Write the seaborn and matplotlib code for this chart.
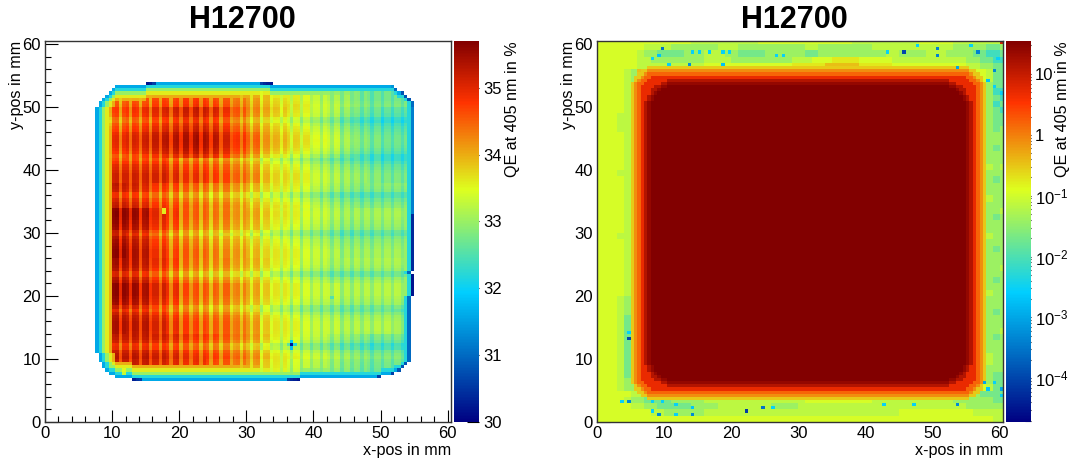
import numpy as np
import matplotlib
matplotlib.use('Agg')
import matplotlib.pyplot as plt
import seaborn as sns
from matplotlib.colors import LinearSegmentedColormap, LogNorm
from matplotlib.ticker import NullFormatter

# Values are read by eye from the picture. The 0.5 mm maps are too dense to type
# cell by cell, so they are assembled from typed tables, profiles and single cells.

titles = ['H12700', 'H12700']
x_label = 'x-pos in mm'
y_label = 'y-pos in mm'
cbar_label = 'QE at 405 nm in %'
mm_ticks = [0, 10, 20, 30, 40, 50, 60]
mm_minor = [2, 4, 6, 8, 12, 14, 16, 18, 22, 24, 26, 28, 32, 34, 36, 38, 42, 44, 46, 48, 52, 54, 56, 58]
qe_ticks = [30, 31, 32, 33, 34, 35]
log_ticks = [1e-4, 1e-3, 1e-2, 1e-1, 1, 10]
log_tick_labels = ['$\\mathregular{10^{-4}}$', '$\\mathregular{10^{-3}}$', '$\\mathregular{10^{-2}}$',
                   '$\\mathregular{10^{-1}}$', '1', '10']

# left map: QE in blocks 2 mm wide and 4 mm high, x from 8, rows from y=54 down to y=6
qe_blocks = [
    [34.3, 34.3, 34.4, 34.4, 34.5, 34.5, 34.6, 34.6, 34.5, 34.4, 34.2, 34.0, 33.8, 33.6, 33.5, 33.4, 33.2, 33.1, 33.0, 32.8, 32.7, 32.7, 32.7, 32.7],
    [34.4, 34.5, 34.6, 34.7, 34.8, 34.9, 35.0, 35.0, 34.9, 34.7, 34.4, 34.1, 33.9, 33.7, 33.5, 33.4, 33.2, 33.1, 32.9, 32.7, 32.6, 32.5, 32.5, 32.6],
    [34.6, 34.6, 34.7, 34.8, 34.9, 35.0, 35.1, 35.1, 35.0, 34.8, 34.5, 34.2, 33.9, 33.7, 33.5, 33.4, 33.2, 33.1, 32.9, 32.7, 32.6, 32.5, 32.5, 32.6],
    [34.8, 34.8, 34.8, 34.8, 34.8, 34.7, 34.6, 34.6, 34.5, 34.4, 34.2, 34.0, 33.7, 33.5, 33.4, 33.3, 33.1, 33.0, 32.9, 32.8, 32.7, 32.6, 32.6, 32.7],
    [35.0, 35.0, 34.9, 34.8, 34.6, 34.5, 34.4, 34.3, 34.2, 34.2, 34.0, 33.8, 33.6, 33.5, 33.4, 33.3, 33.1, 33.0, 32.9, 32.8, 32.8, 32.8, 32.8, 32.8],
    [35.3, 35.3, 35.2, 35.1, 34.7, 34.5, 34.3, 34.2, 34.1, 34.1, 33.9, 33.8, 33.6, 33.4, 33.3, 33.2, 33.1, 33.0, 32.9, 32.9, 32.9, 32.9, 32.9, 32.9],
    [35.2, 35.3, 35.1, 35.0, 34.6, 34.4, 34.3, 34.2, 34.1, 34.0, 33.9, 33.7, 33.5, 33.4, 33.3, 33.2, 33.1, 33.0, 32.9, 32.9, 32.9, 32.9, 32.9, 32.9],
    [35.2, 35.2, 35.1, 35.0, 34.7, 34.5, 34.3, 34.2, 34.1, 34.1, 33.9, 33.8, 33.6, 33.4, 33.3, 33.2, 33.1, 33.0, 33.0, 33.0, 33.0, 33.0, 33.0, 33.0],
    [35.2, 35.3, 35.2, 35.1, 34.8, 34.6, 34.4, 34.3, 34.2, 34.2, 34.0, 33.8, 33.6, 33.4, 33.3, 33.2, 33.1, 33.1, 33.0, 33.0, 33.0, 33.0, 33.0, 33.0],
    [35.1, 35.1, 35.0, 35.0, 34.8, 34.6, 34.5, 34.4, 34.3, 34.3, 34.1, 33.9, 33.6, 33.4, 33.3, 33.2, 33.1, 33.1, 33.0, 33.0, 33.0, 33.0, 32.9, 32.9],
    [35.0, 35.0, 35.0, 35.0, 34.9, 34.8, 34.7, 34.6, 34.5, 34.4, 34.2, 34.0, 33.7, 33.4, 33.3, 33.2, 33.1, 33.0, 32.9, 32.8, 32.7, 32.7, 32.7, 32.7],
    [34.8, 34.9, 34.9, 34.9, 34.8, 34.7, 34.6, 34.6, 34.4, 34.3, 34.1, 33.9, 33.6, 33.4, 33.2, 33.1, 33.0, 32.9, 32.8, 32.7, 32.6, 32.6, 32.6, 32.6],
]

# vertical stripes, x = 8 .. 55.5 in 0.5 mm cells
col_ripple = [
    -.30, .10, .15, -.45, .15, .20, -.50, .15, .15, -.45, .20, .15,
    -.50, .15, .20, -.45, .15, .15, -.45, .20, .15, -.50, .15, .20,
    -.45, .15, .15, -.40, .15, .20, -.45, .15, .15, -.45, .15, .10,
    -.40, .15, .15, -.40, .10, .15, -.35, .15, .10, -.35, .10, .15,
    -.30, .10, .12, -.30, .12, .10, -.28, .10, .10, -.30, .12, .10,
    -.28, .10, .10, -.28, .10, .10, -.25, .10, .08, -.25, .10, .08,
    -.25, .08, .10, -.25, .10, .08, -.22, .08, .08, -.22, .08, .08,
    -.20, .08, .08, -.20, .08, .06, -.18, .06, .06, -.15, .05, .05,
]

# horizontal bands, y = 6.5 .. 53.5 in 0.5 mm cells
row_ripple = [
    0, 0, 0, .05, .10, .12, .15, .15, .10, 0, -.25, -.30, -.05, .05, .10, .12, .15, .15, .15, .10,
    .05, -.10, -.30, -.25, 0, .05, .10, .15, .15, .15, .15, .05, -.05, -.30, -.30, -.05, .05, .10, .12, .15,
    .15, .15, .10, .05, 0, -.10, -.30, -.25, 0, .05, .10, .15, .18, .18, .15, .08, .02, -.10, -.28, -.28,
    0, .05, .10, .15, .18, .18, .12, .05, 0, -.15, -.30, -.20, 0, .08, .15, .18, .20, .18, .12, .05,
    0, -.10, -.28, -.22, 0, .05, .08, .10, .05, 0, 0, 0, 0, 0, 0,
]

# outline of the left map from the bottom row up: rows, x start, x end, QE of the last cell
row_runs = [
    (1, 13.0, 38.0, 30.3), (1, 10.5, 50.0, 30.6), (1, 9.5, 52.0, 30.6), (1, 9.0, 53.0, 30.8), (1, 8.5, 53.5, 30.8),
    (1, 8.5, 54.0, 30.8), (3, 8.0, 54.5, 31.0), (18, 7.5, 54.5, 31.0), (7, 7.5, 55.0, 30.2), (1, 7.5, 54.5, 31.0),
    (18, 7.5, 55.0, 30.4), (34, 7.5, 55.0, 31.2),
    (2, 8.0, 55.0, 31.0), (1, 8.5, 54.5, 30.8), (1, 9.0, 54.0, 30.8), (1, 9.5, 53.5, 30.8),
    (1, 10.0, 52.5, 31.0), (1, 10.5, 52.0, 31.4), (1, 15.0, 33.5, 31.0),
]
edge_qe = [31.6, 32.2, 33.0, 33.6, 34.0]
qe_cells_x = [36.5, 36.5, 36.0, 37.0, 36.5, 17.5, 17.5, 42.5, 11.5, 11.5, 15.0, 15.5, 16.0, 32.0, 32.5, 33.0, 33.5, 13.0, 13.5, 14.0, 36.0, 36.5, 37.0, 37.5]
qe_cells_y = [12.0, 11.5, 12.0, 12.0, 12.5, 33.0, 33.5, 19.5, 8.0, 7.5, 53.5, 53.5, 53.5, 53.5, 53.5, 53.5, 53.5, 6.5, 6.5, 6.5, 6.5, 6.5, 6.5, 6.5]
qe_cells_v = [30.2, 31.8, 32.6, 32.2, 31.9, 33.6, 33.6, 32.5, 33.5, 33.3, 30.2, 30.3, 30.6, 30.6, 30.4, 30.3, 30.2, 30.3, 30.5, 30.6, 30.6, 30.4, 30.3, 30.2]

# right map: core and the ring around it, in mm
core_box = [7.0, 56.0, 5.5, 54.5, 5.0]
core_levels = [14, 24, 35]
ring_levels = [5, 1.5, .8, .3]

# right map background, 1 mm cells, level codes below
level_values = [1e-4, 5e-4, 2.5e-3, 8e-3, .02, .04, .07, .11, .18, .35]
top_band = [
    '7777777777777766666666667777777777777766666666667777766666665',
    '7777777666655555556665555555555665555555566666666666655555445',
    '7777776554444555666554444555555445555555555665555666555544334',
    '7777776655555555666655555555566677788887777766666666666554433',
    '7777776666666666777777777777788888999998888877777777777665544',
]
bottom_band = [
    '7777766555555566666777777777777888888888877777777777666654444',
    '7777655444455555666666666666666777777777766666666666655555544',
    '7777766554444455556666666655556666666666666666666666666555555',
    '7777777766555555666666666666666666666666666667777777777766666',
    '7777777777777777777777777777777777777777777777777777777777766',
]
left_band = [
    '777765', '777765', '777765', '777765', '777765', '777765', '777765', '777665', '777665', '777665',
    '777765', '777765', '777765', '777765', '777765', '777765', '777665', '777765', '777765', '777765',
    '777765', '777765', '777765', '777765', '777765', '777765', '777665', '777765', '777765', '777765',
    '777765', '777765', '777765', '777765', '777765', '777765', '777655', '777655', '777655', '777645',
    '777645', '777645', '777645', '777645', '777645', '777645', '777645', '777645', '777645', '777655', '777655',
]
right_band = [
    '77644', '77644', '77544', '77533', '77543', '77534', '77543', '77544', '77544', '77545',
    '77555', '77555', '77545', '77555', '77555', '77656', '77555', '77545', '77555', '77555',
    '77655', '77555', '77556', '77545', '77555', '77555', '77655', '77555', '77545', '77555',
    '77555', '77556', '77555', '77545', '77555', '77655', '77555', '77555', '77545', '77555',
    '77555', '77556', '77545', '77555', '77555', '77655', '77655', '77555', '77544', '77544', '77644',
]
spot_x = [9.6, 8.4, 9.1, 10.6, 13.7, 14.4, 15.1, 16.9, 18.7, 19.6, 18.7, 26.9, 27.8, 45.8, 50.8, 50.8, 55.7, 56.7,
          43.3, 47.9, 53.9, 59.4, 59.9, 59.2, 58.4, 60.0, 57.6, 58.4, 59.1, 60.0, 60.0, 53.7, 47.2, 42.5,
          4.6, 4.6, 4.6, 3.9, 8.2, 9.7, 9.1, 8.2, 11.6, 11.6, 14.2, 14.2, 22.2, 24.8, 26.3, 60.1]
spot_y = [59.2, 57.8, 58.3, 56.9, 56.7, 58.8, 58.8, 58.8, 58.8, 58.8, 56.7, 58.3, 58.3, 58.8, 59.2, 58.1, 59.5, 58.8,
          58.8, 59.5, 56.4, 55.6, 57.7, 53.1, 54.2, 52.0, 6.0, 5.0, 6.4, 5.1, 4.4, 2.9, 2.9, 2.9,
          13.0, 14.0, 3.0, 3.3, 3.0, 3.0, 1.1, 1.5, 2.9, 1.3, 2.1, 1.1, 1.5, 2.1, 2.1, 60.2]
spot_v = [3e-4, 3e-3, 2e-3, 3e-3, 6e-4, 3e-3, 3e-3, 3e-3, 3e-3, 3e-3, 2e-3, 3e-3, 3e-3, 1e-4, 4e-4, 4e-4, 3e-3, 4e-4,
          3e-3, 3e-3, 1e-3, 5e-4, 3e-3, 3e-3, 2e-3, 3e-3, 1e-3, 2e-3, 3e-3, 1e-3, 3e-3, 5e-4, 3e-3, 3e-3,
          1e-4, 3e-3, 5e-4, 3e-3, 3e-3, 3e-3, 5e-4, 3e-3, 3e-3, 3e-3, 2e-3, 5e-4, 8e-5, 3e-4, 3e-3, 8]

root_rainbow = LinearSegmentedColormap.from_list('root_rainbow', [
    (0.00, (0.00, 0.00, 0.51)), (0.34, (0.00, 0.81, 1.00)), (0.61, (0.87, 1.00, 0.12)),
    (0.84, (1.00, 0.20, 0.00)), (1.00, (0.51, 0.00, 0.00))])


def build_left():
    n = 121
    grid = np.full((n, n), np.nan)
    inside = np.zeros((n, n), dtype=bool)
    row = 13
    for count, start, end, last in row_runs:
        inside[row:row + count, int(start * 2):int(end * 2)] = True
        row += count
    for i, j in zip(*np.nonzero(inside)):
        col_i = min(max((j - 16) // 4, 0), 23)
        row_i = min(max((107 - i) // 8, 0), 11)
        grid[i, j] = qe_blocks[row_i][col_i]
        if 0 <= j - 16 < len(col_ripple):
            grid[i, j] += col_ripple[j - 16]
        if 0 <= i - 13 < len(row_ripple):
            grid[i, j] += row_ripple[i - 13]
    # outer cells of the photocathode drop off
    layer = inside.copy()
    for level in edge_qe:
        core = layer.copy()
        core[1:, :] &= layer[:-1, :]
        core[:-1, :] &= layer[1:, :]
        core[:, 1:] &= layer[:, :-1]
        core[:, :-1] &= layer[:, 1:]
        rim = layer & ~core
        grid[rim] = np.minimum(grid[rim], level)
        layer = core
    row = 13
    for count, start, end, last in row_runs:
        grid[row:row + count, int(end * 2) - 1] = last
        row += count
    for x, y, v in zip(qe_cells_x, qe_cells_y, qe_cells_v):
        grid[int(y * 2), int(x * 2)] = v
    return grid


def build_right():
    n = 121
    grid = np.zeros((n, n))
    x0, x1, y0, y1, r = core_box
    cx, cy = (x0 + x1) / 2, (y0 + y1) / 2
    hx, hy = (x1 - x0) / 2, (y1 - y0) / 2
    for i in range(n):
        for j in range(n):
            xmm, ymm = j / 2 + .25, i / 2 + .25
            xi, yi = min(j // 2, 60), min(i // 2, 60)
            if yi >= 56:
                code = top_band[60 - yi][xi]
            elif yi <= 4:
                code = bottom_band[4 - yi][xi]
            elif xi <= 5:
                code = left_band[55 - yi][xi]
            elif xi >= 56:
                code = right_band[55 - yi][xi - 56]
            else:
                code = '9'
            qx = abs(xmm - cx) - hx + r
            qy = abs(ymm - cy) - hy + r
            d = np.hypot(max(qx, 0), max(qy, 0)) + min(max(qx, qy), 0) - r
            # the ring has tighter corners than the core it surrounds
            depth = max(max(qx, qy) - r, d - 1.2)
            if d < -1:
                grid[i, j] = core_levels[2]
            elif d < 0:
                grid[i, j] = core_levels[int(-d * 2)]
            elif depth < 2:
                grid[i, j] = ring_levels[int(max(depth, 0) * 2)]
            else:
                grid[i, j] = level_values[int(code)]
    for x, y, v in zip(spot_x, spot_y, spot_v):
        grid[min(int(y * 2), 120), min(int(x * 2), 120)] = v
    return grid


def style_axes(ax, title):
    ax.set_xlim(0, 121)
    ax.set_ylim(0, 121)
    ax.set_xticks([t * 2 for t in mm_ticks], [str(t) for t in mm_ticks])
    ax.set_yticks([t * 2 for t in mm_ticks], [str(t) for t in mm_ticks])
    ax.set_xticks([t * 2 for t in mm_minor], minor=True)
    ax.set_yticks([t * 2 for t in mm_minor], minor=True)
    ax.tick_params(which='major', direction='in', length=9, width=.8, labelsize=12, pad=3,
                   bottom=True, left=True, labelrotation=0, color='black', labelcolor='black')
    ax.tick_params(which='minor', direction='in', length=4.5, width=.8, bottom=True, left=True, color='black')
    ax.set_xlabel(x_label, fontsize=11.6, color='black', loc='right', labelpad=1)
    ax.set_ylabel(y_label, fontsize=11.6, color='black', loc='top', labelpad=-1)
    ax.set_title(title, fontsize=22, fontweight='bold', color='black', pad=9, x=.487)
    for s in ax.spines.values():
        s.set_visible(True)
        s.set_linewidth(1)
        s.set_color('#333333')


def main():
    sns.set_theme(style='white')
    plt.rcParams['font.family'] = ['Liberation Sans', 'DejaVu Sans']
    plt.rcParams['mathtext.fontset'] = 'custom'
    plt.rcParams['mathtext.rm'] = 'Liberation Sans'

    w, h = 1072, 459
    fig = plt.figure(figsize=(w / 100, h / 100), dpi=100)

    def place(x0, x1):
        return fig.add_axes([x0 / w, 1 - 422 / h, (x1 - x0) / w, 381 / h])

    ax1, cax1 = place(45, 451), place(454, 479)
    ax2, cax2 = place(597, 1003), place(1006, 1031)

    sns.heatmap(build_left(), ax=ax1, cbar_ax=cax1, cmap=root_rainbow, vmin=30, vmax=35.7,
                xticklabels=False, yticklabels=False)
    sns.heatmap(build_right(), ax=ax2, cbar_ax=cax2, cmap=root_rainbow,
                norm=LogNorm(vmin=1.9e-5, vmax=35), xticklabels=False, yticklabels=False)
    style_axes(ax1, titles[0])
    style_axes(ax2, titles[1])

    cb1 = ax1.collections[0].colorbar
    cb1.set_ticks(qe_ticks, labels=[str(t) for t in qe_ticks])
    cb1.ax.minorticks_off()
    cb2 = ax2.collections[0].colorbar
    cb2.set_ticks(log_ticks, labels=log_tick_labels)
    minor = [m * 10.0 ** e for e in range(-5, 2) for m in range(2, 10) if 1.9e-5 < m * 10.0 ** e < 35]
    cb2.ax.yaxis.set_ticks(minor, minor=True)
    cb2.ax.yaxis.set_minor_formatter(NullFormatter())
    for cb, label_x in ((cb1, 2.04), (cb2, 1.96)):
        cb.ax.tick_params(which='major', direction='in', length=9, width=.8, labelsize=12, pad=3, right=True,
                          color='black', labelcolor='black')
        cb.ax.tick_params(which='minor', direction='in', length=4.5, width=.8, right=True, color='black')
        cb.set_label(cbar_label, fontsize=11.6, color='black', loc='top')
        cb.ax.yaxis.set_label_coords(label_x, 1)
        cb.outline.set_visible(False)

    fig.savefig('out.png', dpi=100)
    plt.close(fig)


if __name__ == "__main__":
    main()
